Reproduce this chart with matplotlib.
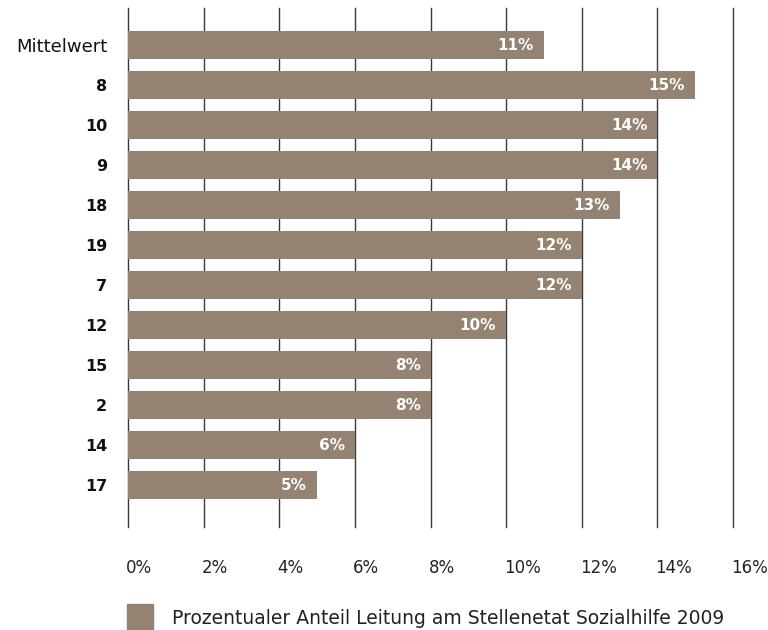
import matplotlib.pyplot as plt
from matplotlib.patches import Rectangle
from matplotlib.transforms import ScaledTranslation

# Anteil Leitung am Stellenetat Sozialhilfe 2009, je Kommune
kategorien = ['Mittelwert', '8', '10', '9', '18', '19', '7', '12', '15', '2', '14', '17']
werte = [11, 15, 14, 14, 13, 12, 12, 10, 8, 8, 6, 5]
xticks = [0, 2, 4, 6, 8, 10, 12, 14, 16]
legende = 'Prozentualer Anteil Leitung am Stellenetat Sozialhilfe 2009'

farbe = '#948373'
plt.rcParams['font.family'] = ['DejaVu Sans']

fig = plt.figure(figsize=(7.68, 6.3), dpi=100)
ax = fig.add_axes([128 / 768, 1 - 527 / 630, (733 - 128) / 768, (527 - 8) / 630])

y = list(range(len(kategorien)))
ax.barh(y, werte, height=0.68, color=farbe, zorder=2)

# Werte rechtsbündig in den Balken
off = ScaledTranslation(-10 / 100, 0, fig.dpi_scale_trans)
for i, v in enumerate(werte):
    ax.text(v, i, f'{v}%', ha='right', va='center', color='white',
            fontsize=11, fontweight='bold', zorder=3,
            transform=ax.transData + off)

ax.set_xlim(0, 16)
ax.set_ylim(12.05, -0.925)
ax.set_xticks(xticks)
ax.xaxis.grid(True, color='#3a3a3a', linewidth=1.0, zorder=1)
for gl in ax.get_xgridlines():
    gl.set_clip_on(False)
ax.tick_params(axis='both', length=0)
ax.set_xticklabels([f'{t}%' for t in xticks], fontsize=12, color='#222222')
ax.tick_params(axis='x', pad=23)
shift = ScaledTranslation(-2 / 100, 0, fig.dpi_scale_trans)
for lab in ax.get_xticklabels():
    lab.set_horizontalalignment('left')
    lab.set_transform(lab.get_transform() + shift)
ax.set_yticks(y)
ax.set_yticklabels(kategorien, fontsize=11.5, color='#111111', fontweight='bold')
ax.get_yticklabels()[0].set_fontweight('normal')
ax.get_yticklabels()[0].set_fontsize(13)
ax.tick_params(axis='y', pad=15)
for s in ax.spines.values():
    s.set_visible(False)

# Legende unten
fig.patches.append(Rectangle((127 / 768, 0), 26 / 768, 26 / 630,
                             transform=fig.transFigure, color=farbe))
fig.text(172 / 768, 1 - 619 / 630, legende, fontsize=13.5, color='#222222',
         va='center', ha='left')

fig.savefig('out.png', dpi=100)
